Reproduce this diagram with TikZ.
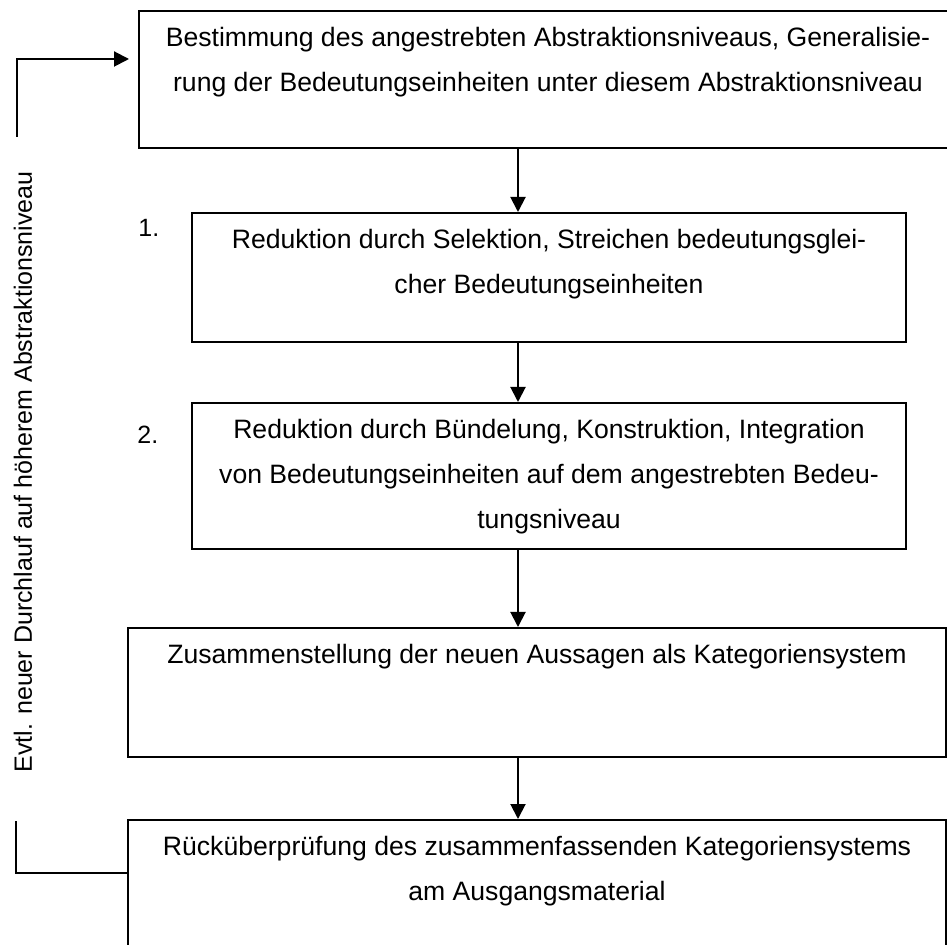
\documentclass[tikz,border=0pt]{standalone}
\usepackage{fontspec}
\setmainfont{Liberation Sans}
\usetikzlibrary{arrows.meta, positioning}
\tikzset{
	stepbox/.style ={rectangle, draw=black, line width=1pt, inner sep=0pt},
	boxtext/.style ={anchor=north, align=center, inner sep=0pt, font=\fontsize{13.3}{22.5}\selectfont},
	marktext/.style={anchor=base west, inner sep=0pt, font=\fontsize{12.5}{22.5}\selectfont},
	flowarrow/.style={-{Triangle[length=7.5pt, width=7.5pt]}, line width=1pt},
	backline/.style={line width=1pt},
}

\begin{document}
\begin{tikzpicture}[x=0.5pt, y=-0.5pt]
	\clip (0,0) rectangle (947,945);
	% ---------------- boxes ----------------
	\node[stepbox, minimum width=409pt, minimum height=68.5pt] (b1) at (548,79.5) {};
	\node[stepbox, minimum width=357pt, minimum height=64.5pt] (b2) at (549,277.5) {};
	\node[stepbox, minimum width=357pt, minimum height=73pt]   (b3) at (549,476) {};
	\node[stepbox, minimum width=409pt, minimum height=64.5pt] (b4) at (537,692.5) {};
	\node[stepbox, minimum width=409pt, minimum height=80pt]   (b5) at (537,900) {};
	% ---------------- texts ----------------
	\node[boxtext, below=2.25pt of b1.north] (t1) {\strut Bestimmung des angestrebten Abstraktionsniveaus, Generalisie-\\rung der Bedeutungseinheiten unter diesem Abstraktionsniveau};
	\node[boxtext, below=2.25pt of b2.north] (t2) {\strut Reduktion durch Selektion, Streichen bedeutungsglei-\\cher Bedeutungseinheiten};
	\node[boxtext, below=2.25pt of b3.north] (t3) {\strut Reduktion durch Bündelung, Konstruktion, Integration\\von Bedeutungseinheiten auf dem angestrebten Bedeu-\\tungsniveau};
	\node[boxtext, below=2.25pt of b4.north] (t4) {\strut Zusammenstellung der neuen Aussagen als Kategoriensystem};
	\node[boxtext, below=2.25pt of b5.north] (t5) {\strut Rücküberprüfung des zusammenfassenden Kategoriensystems\\am Ausgangsmaterial};
	\node[marktext] (n1) at (138,237) {1.};
	\node[marktext] (n2) at (137,444) {2.};
	% ---------------- main flow ----------------
	\coordinate (axis) at (518,0);
	\foreach \a/\b in {b1/b2, b2/b3, b3/b4, b4/b5}
		\draw[flowarrow] (\a.south -| axis) -- (\b.north -| axis);
	% ---------------- loop back ----------------
	\node[marktext, rotate=90] (loop) at (32,773) {Evtl. neuer Durchlauf auf höherem Abstraktionsniveau};
	\coordinate (fbstart) at (17,137);
	\coordinate (fbcorner) at (17,59);
	\draw[flowarrow, shorten >=4.5pt] (fbstart) -- (fbcorner) -- (fbcorner -| b1.west);
	\coordinate (fbend) at (16,821);
	\coordinate (fbturn) at (16,873);
	\draw[backline] (fbend) -- (fbturn) -- (fbturn -| b5.west);
\end{tikzpicture}
\end{document}
